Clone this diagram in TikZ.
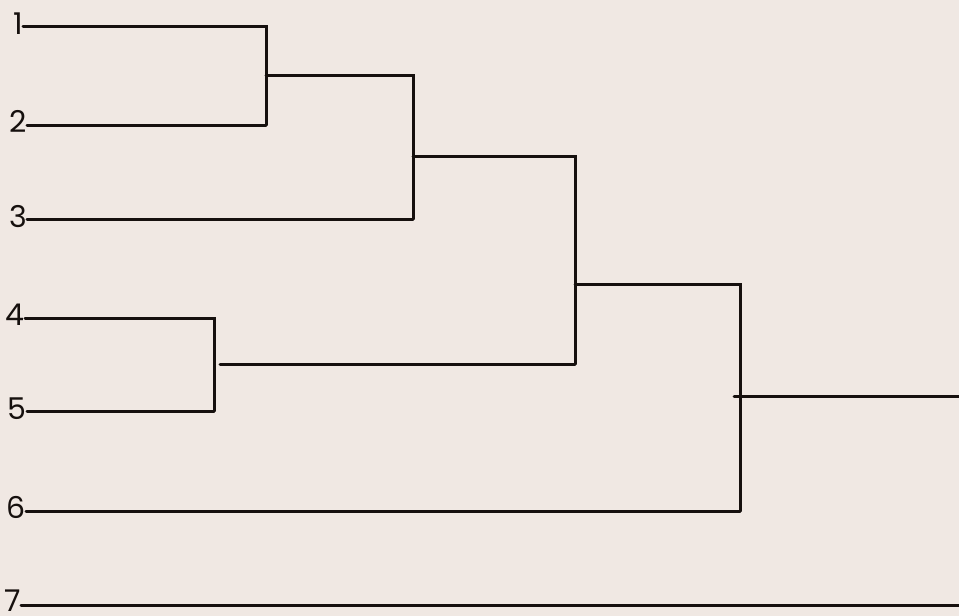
\documentclass[tikz,border=0pt]{standalone}
\usepackage{fontspec}
\setmainfont{Poppins}
\definecolor{paper}{RGB}{240,232,227}
\definecolor{ink}{RGB}{22,16,14}
\begin{document}
\begin{tikzpicture}[x=1pt,y=-1pt,
  link/.style={draw=ink,line width=3pt,line cap=round,line join=miter},
  leaf/.style={inner sep=0pt,anchor=base east,text=ink,font=\fontsize{30}{30}\selectfont}]
\fill[paper] (0,0) rectangle (959,616);
\useasboundingbox (0,0) rectangle (959,616);
% leaf labels
\node[leaf] (l1) at (23,34) {1};
\node[leaf] (l2) at (27,132) {2};
\node[leaf] (l3) at (27,227) {3};
\node[leaf] (l4) at (25,325) {4};
\node[leaf] (l5) at (27,419) {5};
\node[leaf] (l6) at (26,518) {6};
\node[leaf] (l7) at (21,611) {7};
% joints
\coordinate (a1) at (266,26);
\coordinate (a2) at (266,125);
\coordinate (a) at (266,75);
\coordinate (b1) at (413,75);
\coordinate (b2) at (413,219);
\coordinate (b) at (413,156);
\coordinate (d1) at (214,318);
\coordinate (d2) at (214,411);
\coordinate (d) at (220,364);
\coordinate (c1) at (575,156);
\coordinate (c2) at (575,364);
\coordinate (c) at (575,284);
\coordinate (e1) at (740,284);
\coordinate (e2) at (740,511);
\coordinate (e) at (734,396);
\coordinate (r) at (959,396);
\coordinate (s) at (959,605);
% leaf lines
\draw[link] (l1.east |- a1) -- (a1) -- (a2);
\draw[link] (l2.east |- a2) -- (a2);
\draw[link] (a) -- (b1) -- (b2);
\draw[link] (l3.east |- b2) -- (b2);
\draw[link] (l4.east |- d1) -- (d1) -- (d2);
\draw[link] (l5.east |- d2) -- (d2);
\draw[link] (b) -- (c1) -- (c2);
\draw[link] (d) -- (c2);
\draw[link] (c) -- (e1) -- (e2);
\draw[link] (l6.east |- e2) -- (e2);
\draw[link] (e) -- (r);
\draw[link] (l7.east |- s) -- (s);
\end{tikzpicture}
\end{document}
